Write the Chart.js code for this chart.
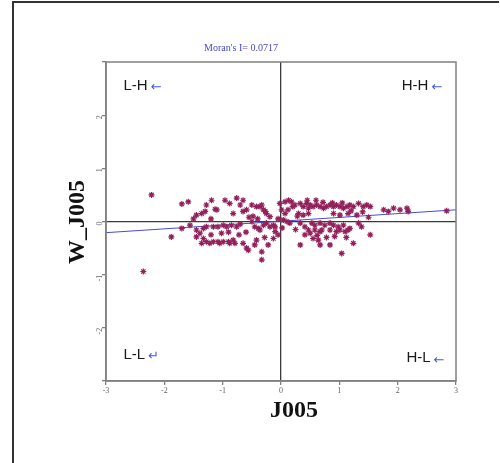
<!DOCTYPE html>
<html>
<head>
<meta charset="utf-8">
<script src="https://cdn.jsdelivr.net/npm/chart.js@4"></script>
<style>
  html, body { margin: 0; padding: 0; background: #fff; }
  #wrap { width: 500px; height: 463px; position: relative; }
</style>
</head>
<body>
<div id="wrap"><canvas id="moran" width="500" height="463"></canvas></div>
<script>
// standardized J005 (x) and its spatial lag W_J005 (y)
const jValues = [
  -2.22, -2.36, -1.88, -1.70, -1.70, -1.59, -1.56, -1.45, -1.36, -1.30,
  -1.28, -1.19, -1.10, -1.13, -0.96, -0.88, -0.76, -0.70, -0.65, -0.82,
  -0.65, -0.59, -1.45, -1.39, -1.33, -1.28, -1.16, -1.08, -0.99, -0.93,
  -0.85, -0.76, -1.45, -1.33, -1.28, -1.16, -1.08, -0.99, -0.90, -0.82,
  -1.36, -1.22, -1.05, -0.88, -0.79, -0.65, -0.59, -0.56, -0.45, -0.42,
  -0.33, -0.33, -0.50, -0.42, -0.36, -0.33, -0.30, -0.27, -0.25, -0.19,
  -0.50, -0.45, -0.39, -0.36, -0.30, -0.25, -0.19, -0.13, -0.10, -0.22,
  -0.13, -0.10, -0.02, 0.07, 0.13, 0.18, 0.01, 0.07, 0.04, 0.10,
  0.15, 0.24, 0.33, 0.38, 0.44, 0.47, 0.50, 0.55, 0.61, 0.67,
  0.73, 0.78, 0.84, 0.90, 0.95, 1.01, 1.07, 1.13, 1.18, 1.24,
  1.33, 1.41, 1.47, 1.53, 0.30, 0.38, 0.47, 0.90, 1.01, 1.15,
  1.30, 1.50, 0.33, 0.41, 0.47, 0.53, 0.58, 0.67, 0.75, 0.84,
  0.90, 0.98, 1.07, 1.18, 1.33, 1.38, 0.41, 0.50, 0.58, 0.67,
  0.70, 0.84, 0.95, 1.01, 1.10, 1.15, 0.55, 0.64, 0.67, 0.84,
  0.33, 1.24, 1.04, 1.53, 1.76, 1.84, 1.93, 2.04, 2.16, 2.18,
  2.84, -1.50, -1.20, -1.02, -0.72, -0.60, -0.55, -0.48, -0.40, -0.28,
  -0.05, 0.02, 0.20, 0.28, 0.45, 0.60, 0.72, 0.88, 1.05, 1.20,
  0.62, 0.78, 0.92, 1.12, 0.25, -0.90, -1.20, -0.70, -0.05, 0.12,
  1.40
];
const wValues = [
  0.50, -0.94, -0.29, -0.13, 0.33, 0.37, -0.07, 0.12, 0.15, 0.19,
  0.31, 0.40, 0.22, 0.23, 0.40, 0.34, 0.44, 0.31, 0.40, 0.15,
  0.19, 0.22, -0.16, -0.22, -0.13, -0.10, -0.10, -0.10, -0.07, -0.10,
  -0.07, -0.10, -0.29, -0.32, -0.38, -0.38, -0.38, -0.38, -0.38, -0.35,
  -0.41, -0.41, -0.41, -0.41, -0.41, -0.41, -0.50, -0.54, -0.44, -0.35,
  -0.57, -0.72, 0.31, 0.28, 0.28, 0.31, 0.22, 0.19, 0.15, 0.09,
  0.00, -0.10, -0.13, -0.16, -0.07, -0.03, -0.10, -0.07, -0.10, -0.44,
  -0.32, -0.19, 0.34, 0.37, 0.40, 0.37, 0.22, 0.15, 0.03, 0.00,
  -0.03, 0.31, 0.34, 0.28, 0.34, 0.25, 0.31, 0.28, 0.31, 0.28,
  0.25, 0.28, 0.31, 0.28, 0.31, 0.28, 0.25, 0.28, 0.31, 0.28,
  0.34, 0.28, 0.31, 0.28, 0.15, 0.12, 0.15, 0.15, 0.12, 0.15,
  0.12, 0.08, -0.03, -0.10, -0.16, -0.03, -0.07, -0.03, -0.07, -0.03,
  -0.07, -0.10, -0.07, -0.13, -0.03, -0.10, -0.25, -0.22, -0.16, -0.19,
  -0.16, -0.16, -0.19, -0.16, -0.19, -0.16, -0.32, -0.35, -0.44, -0.44,
  -0.44, -0.41, -0.60, -0.25, 0.22, 0.19, 0.25, 0.22, 0.25, 0.19,
  0.20, 0.05, 0.05, -0.22, -0.25, -0.20, 0.08, 0.10, 0.05, -0.30,
  0.05, -0.12, 0.28, 0.10, 0.40, 0.40, 0.36, 0.35, 0.35, 0.20,
  -0.26, -0.30, -0.28, -0.30, -0.15, -0.20, -0.25, -0.05, -0.25, 0.22,
  0.18
];

// fitted line (slope = Moran's I)
const fitX = [-3, 3];
const fitY = [-0.21, 0.22];

const xTicks = [-3, -2, -1, 0, 1, 2, 3];
const yTicks = [-2, -1, 0, 1, 2];

const moranText = "Moran's I= 0.0717";
const quadrants = [
  { label: "L-H", arrow: "\u2190", x: -2.7, y: 2.55 },
  { label: "H-H", arrow: "\u2190", x: 2.07, y: 2.55 },
  { label: "L-L", arrow: "\u21B5", x: -2.7, y: -2.5 },
  { label: "H-L", arrow: "\u2190", x: 2.15, y: -2.57 }
];

const points = jValues.map((v, i) => ({ x: v, y: wValues[i] }));
const fitLine = fitX.map((v, i) => ({ x: v, y: fitY[i] }));

const zeroColor = c => c.tick.value === 0 ? "#3a3a3a" : "rgba(0,0,0,0)";

const decor = {
  id: "decor",
  beforeDraw(chart) {
    const c = chart.ctx;
    c.save();
    c.fillStyle = "#fff";
    c.fillRect(0, 0, chart.width, chart.height);
    c.restore();
  },
  afterDraw(chart) {
    const c = chart.ctx;
    const a = chart.chartArea;
    const sx = chart.scales.x, sy = chart.scales.y;
    c.save();

    // outer frame (left + top edges)
    c.strokeStyle = "#333";
    c.lineWidth = 2;
    c.beginPath();
    c.moveTo(13, 463);
    c.lineTo(13, 2);
    c.lineTo(499, 2);
    c.stroke();

    // plot box
    c.strokeStyle = "#808080";
    c.lineWidth = 1.5;
    c.strokeRect(a.left, a.top, a.right - a.left, a.bottom - a.top);

    // Moran's I title
    c.fillStyle = "#4848c8";
    c.font = "10px 'Liberation Serif'";
    c.textAlign = "center";
    c.textBaseline = "middle";
    c.fillText(moranText, 241, 48);

    // quadrant labels
    quadrants.forEach(q => {
      const px = sx.getPixelForValue(q.x);
      const py = sy.getPixelForValue(q.y);
      c.font = "15px 'Liberation Sans'";
      c.fillStyle = "#1a1a1a";
      c.textAlign = "left";
      c.textBaseline = "middle";
      c.fillText(q.label, px, py);
      const w = c.measureText(q.label).width;
      c.font = "13px 'DejaVu Sans'";
      c.fillStyle = "#3f5fcf";
      c.fillText(q.arrow, px + w + 3, py + 2);
    });

    // axis titles
    c.fillStyle = "#111";
    c.font = "bold 24px 'Liberation Serif'";
    c.textAlign = "center";
    c.textBaseline = "middle";
    c.fillText("J005", 294, 411);
    c.translate(78, 222);
    c.rotate(-Math.PI / 2);
    c.fillText("W_J005", 0, 0);
    c.restore();
  }
};

new Chart(document.getElementById("moran"), {
  type: "scatter",
  data: {
    datasets: [
      {
        label: "W_J005",
        data: points,
        pointStyle: "star",
        pointRadius: 3,
        borderColor: "#92205a",
        backgroundColor: "#92205a",
        borderWidth: 1.2
      },
      {
        type: "line",
        label: "fit",
        data: fitLine,
        borderColor: "#4a4ad8",
        borderWidth: 1,
        pointRadius: 0,
        fill: false
      }
    ]
  },
  options: {
    responsive: false,
    animation: false,
    layout: { padding: { left: 0, top: 62, right: 44, bottom: 0 } },
    plugins: { legend: { display: false }, tooltip: { enabled: false }, title: { display: false } },
    scales: {
      x: {
        type: "linear",
        min: -3, max: 3,
        afterBuildTicks: s => { s.ticks = xTicks.map(v => ({ value: v })); },
        afterFit: s => { s.height = 82; },
        ticks: { color: "#666", font: { size: 8, family: "Liberation Serif" }, padding: 1 },
        grid: { color: zeroColor, lineWidth: 1.3, tickColor: "#808080", tickLength: 4 },
        border: { color: "#808080", width: 1.5 }
      },
      y: {
        type: "linear",
        min: -3, max: 3,
        afterBuildTicks: s => { s.ticks = [-3].concat(yTicks, [3]).map(v => ({ value: v })); },
        afterFit: s => { s.width = 106; },
        ticks: {
          color: "#666",
          font: { size: 8, family: "Liberation Serif" },
          padding: 2,
          minRotation: 90, maxRotation: 90,
          callback: v => yTicks.includes(v) ? String(v) : ""
        },
        grid: { color: zeroColor, lineWidth: 1.3, tickColor: "#808080", tickLength: 4 },
        border: { color: "#808080", width: 1.5 }
      }
    }
  },
  plugins: [decor]
});
</script>
</body>
</html>
